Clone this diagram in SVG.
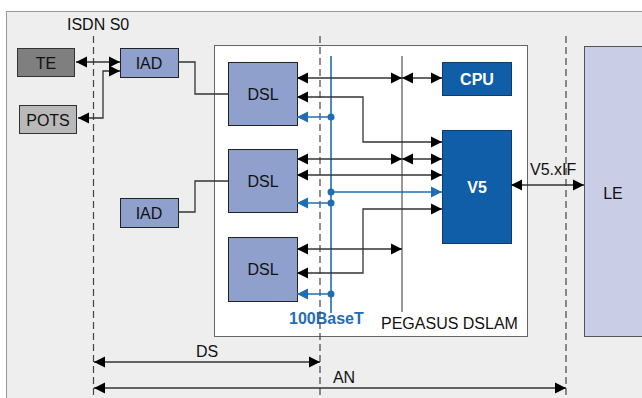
<svg xmlns="http://www.w3.org/2000/svg" width="642" height="398" viewBox="0 0 642 398">
<style>
text{font-family:"Liberation Sans",Arial,sans-serif;font-size:16px;fill:#111;}
.c{text-anchor:middle;dominant-baseline:central;}
.w{fill:#fff;font-weight:bold;}
.b{fill:#1f6db3;font-weight:bold;}
.ln{stroke:#333;stroke-width:1.3;fill:none;}
.bl{stroke:#1f6db3;stroke-width:1.6;fill:none;}
.ds{stroke:#444;stroke-width:1.2;stroke-dasharray:7 4;fill:none;}
.lb{fill:#8fa0cc;stroke:#222;stroke-width:1;}
.db{fill:#0f5ea7;stroke:#0a3d6e;stroke-width:1;}
</style>
<defs>
<marker id="a" viewBox="0 0 10 10" refX="10" refY="5" markerWidth="11" markerHeight="12" markerUnits="userSpaceOnUse" orient="auto-start-reverse"><path d="M0,0L10,5L0,10z" fill="#000"/></marker>
<marker id="ab" viewBox="0 0 10 10" refX="10" refY="5" markerWidth="11" markerHeight="12" markerUnits="userSpaceOnUse" orient="auto-start-reverse"><path d="M0,0L10,5L0,10z" fill="#1f6db3"/></marker>
</defs>
<rect x="6.5" y="11.5" width="640" height="392" fill="#eeeeee" stroke="#999"/>
<g id="dslam"><rect x="214.5" y="45.5" width="313" height="291" fill="#fff" stroke="#666"/><text x="381" y="329">PEGASUS DSLAM</text></g>
<g id="le"><rect x="584.5" y="46.5" width="60" height="290" fill="#c9cde6" stroke="#555"/><text class="c" x="613" y="193">LE</text></g>
<g id="te"><rect x="17.5" y="48.5" width="57" height="28" fill="#7f7f7f" stroke="#333"/><text class="c" x="46" y="63">TE</text></g>
<g id="pots"><rect x="19.5" y="105.5" width="57" height="28" fill="#b9b9b9" stroke="#333"/><text class="c" x="48" y="120">POTS</text></g>
<g id="iad1"><rect class="lb" x="120.5" y="48.5" width="58" height="29"/><text class="c" x="149" y="63">IAD</text></g>
<g id="iad2"><rect class="lb" x="120.5" y="198.5" width="58" height="29"/><text class="c" x="149" y="213">IAD</text></g>
<g id="dsl1"><rect class="lb" x="228.5" y="62.5" width="69" height="63"/><text class="c" x="263" y="94">DSL</text></g>
<g id="dsl2"><rect class="lb" x="228.5" y="149.5" width="69" height="63"/><text class="c" x="263" y="181">DSL</text></g>
<g id="dsl3"><rect class="lb" x="228.5" y="237.5" width="69" height="64"/><text class="c" x="263" y="269">DSL</text></g>
<g id="cpu"><rect class="db" x="442.5" y="62.5" width="69" height="33"/><text class="c w" x="477" y="79">CPU</text></g>
<g id="v5"><rect class="db" x="442.5" y="130.5" width="69" height="113"/><text class="c w" x="477" y="187">V5</text></g>
<g id="bus"><line x1="402" y1="56" x2="402" y2="312" stroke="#777" stroke-width="1.5"/></g>
<g id="eth"><line class="bl" x1="331" y1="56" x2="331" y2="313"/><text class="b" x="289" y="324">100BaseT</text></g>
<g id="labels">
<text x="67" y="30">ISDN S0</text>
<text class="c" x="207" y="351">DS</text>
<text class="c" x="344" y="377">AN</text>
<text x="530" y="175">V5.xIF</text>
</g>
<g id="connectors">
<line class="ds" x1="93.5" y1="36" x2="93.5" y2="398"/>
<line class="ds" x1="320" y1="36" x2="320" y2="398"/>
<line class="ds" x1="566" y1="36" x2="566" y2="398"/>
<line class="ln" x1="76" y1="62" x2="120" y2="62" marker-start="url(#a)" marker-end="url(#a)"/>
<path class="ln" d="M78,118H103V71H120" marker-start="url(#a)" marker-end="url(#a)"/>
<path class="ln" d="M178,62H195V94H228"/>
<path class="ln" d="M178,212H195V181H228"/>
<line class="ln" x1="297" y1="78" x2="402" y2="78" marker-start="url(#a)" marker-end="url(#a)"/>
<line class="ln" x1="402" y1="78" x2="442" y2="78" marker-start="url(#a)" marker-end="url(#a)"/>
<path class="ln" d="M297,97H363V142H442" marker-start="url(#a)" marker-end="url(#a)"/>
<line class="ln" x1="297" y1="159" x2="402" y2="159" marker-start="url(#a)" marker-end="url(#a)"/>
<line class="ln" x1="402" y1="159" x2="442" y2="159" marker-start="url(#a)" marker-end="url(#a)"/>
<line class="ln" x1="297" y1="175" x2="442" y2="175" marker-start="url(#a)" marker-end="url(#a)"/>
<path class="ln" d="M297,273H363V209H442" marker-start="url(#a)" marker-end="url(#a)"/>
<line class="ln" x1="297" y1="249" x2="402" y2="249" marker-start="url(#a)" marker-end="url(#a)"/>
<line class="ln" x1="511" y1="185" x2="584" y2="185" marker-start="url(#a)" marker-end="url(#a)"/>
<line class="ln" x1="94" y1="362" x2="320" y2="362" marker-start="url(#a)" marker-end="url(#a)"/>
<line class="ln" x1="94" y1="388" x2="566" y2="388" marker-start="url(#a)" marker-end="url(#a)"/>
<line class="bl" x1="331" y1="117" x2="297" y2="117" marker-end="url(#ab)"/>
<line class="bl" x1="331" y1="192" x2="442" y2="192" marker-end="url(#ab)"/>
<line class="bl" x1="331" y1="203" x2="297" y2="203" marker-end="url(#ab)"/>
<line class="bl" x1="331" y1="294" x2="297" y2="294" marker-end="url(#ab)"/>
<g fill="#1f6db3"><circle cx="331" cy="117" r="3.5"/><circle cx="331" cy="192" r="3.5"/><circle cx="331" cy="203" r="3.5"/><circle cx="331" cy="294" r="3.5"/></g>
</g>
</svg>
